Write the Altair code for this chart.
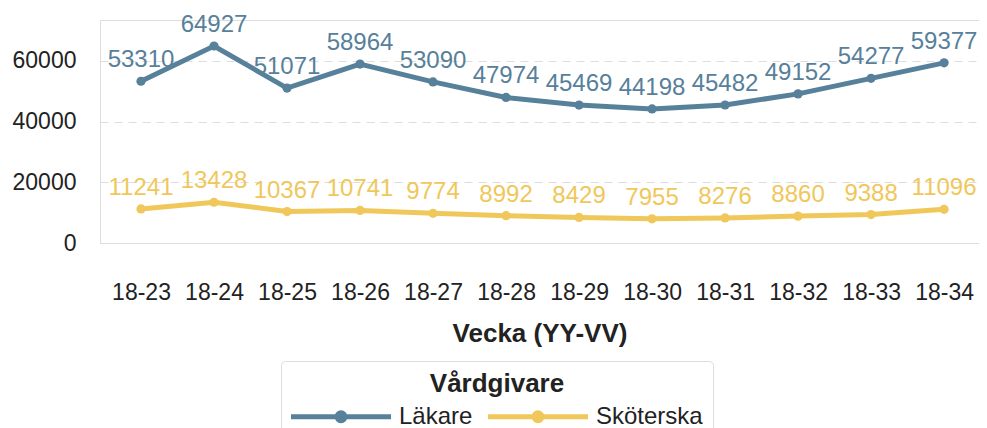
import altair as alt
import pandas as pd

weeks = ["18-23", "18-24", "18-25", "18-26", "18-27", "18-28",
         "18-29", "18-30", "18-31", "18-32", "18-33", "18-34"]
lakare = [53310, 64927, 51071, 58964, 53090, 47974,
          45469, 44198, 45482, 49152, 54277, 59377]
skoterska = [11241, 13428, 10367, 10741, 9774, 8992,
             8429, 7955, 8276, 8860, 9388, 11096]
groups = ["Läkare", "Sköterska"]
colors = ["#57809a", "#f0c75a"]
y_ticks = [0, 20000, 40000, 60000]

rows = []
for w, v in zip(weeks, lakare):
    rows.append({"Vecka": w, "Antal": v, "Vårdgivare": groups[0]})
for w, v in zip(weeks, skoterska):
    rows.append({"Vecka": w, "Antal": v, "Vårdgivare": groups[1]})
df = pd.DataFrame(rows)

FONT = "Liberation Sans"

color_scale = alt.Scale(domain=groups, range=colors)
x_enc = alt.X("Vecka:O", sort=weeks,
              scale=alt.Scale(type="point", padding=0.52, align=0.54),
              axis=alt.Axis(title="Vecka (YY-VV)", labelAngle=0, ticks=False,
                            domain=False, labelPadding=38, titlePadding=16,
                            labelFontSize=23, titleFontSize=26,
                            labelColor="#222222", titleColor="#222222",
                            labelFont=FONT, titleFont=FONT, titleFontWeight="bold",
                            grid=False))
y_enc = alt.Y("Antal:Q", scale=alt.Scale(domain=[0, 73500], nice=False, zero=True),
              axis=alt.Axis(title=None, values=y_ticks, format="d", ticks=False,
                            domain=False, labelPadding=24, labelFontSize=23,
                            labelColor="#222222", labelFont=FONT, grid=True,
                            gridDash=[8, 6], gridColor="#dddddd", gridWidth=1))

# legend symbol: 100px line with a dot in the middle (scale = sqrt(900)/2 = 15)
legend_symbol = ("M-1.1667,0 L5.5,0 M2.4334,0 A0.2667,0.2667 0 1,1 1.9,0 "
                 "A0.2667,0.2667 0 1,1 2.4334,0 Z")

line = alt.Chart(df).mark_line(strokeWidth=5).encode(
    x=x_enc, y=y_enc,
    color=alt.Color("Vårdgivare:N", scale=color_scale, sort=groups,
                    legend=alt.Legend(
                        title="Vårdgivare", orient="none", legendX=181, legendY=341,
                        direction="horizontal", titleAnchor="middle",
                        titleFontSize=26, titleFont=FONT, titleFontWeight="bold",
                        titleColor="#222222", titlePadding=2,
                        labelFontSize=24, labelFont=FONT, labelColor="#222222",
                        labelOffset=73, columnPadding=4,
                        symbolType=legend_symbol, symbolSize=900,
                        symbolStrokeWidth=5, padding=10,
                        fillColor="#ffffff", strokeColor="#dddddd",
                        cornerRadius=4)),
)

points = alt.Chart(df).mark_circle(size=85, opacity=1).encode(
    x=x_enc, y=y_enc,
    color=alt.Color("Vårdgivare:N", scale=color_scale, legend=None),
)

labels = alt.Chart(df).mark_text(baseline="bottom", dy=-9, fontSize=24, font=FONT).encode(
    x=x_enc, y=y_enc,
    text=alt.Text("Antal:Q", format="d"),
    color=alt.Color("Vårdgivare:N", scale=color_scale, legend=None),
)

chart = alt.layer(line, points, labels).properties(
    width=879, height=223,
    autosize=alt.AutoSizeParams(type="none"),
    padding={"left": 92, "top": 12, "right": 0, "bottom": 185},
).configure_view(stroke=None).configure(background="#ffffff")

chart.save("out.html", embed_options={"renderer": "svg", "actions": False})
